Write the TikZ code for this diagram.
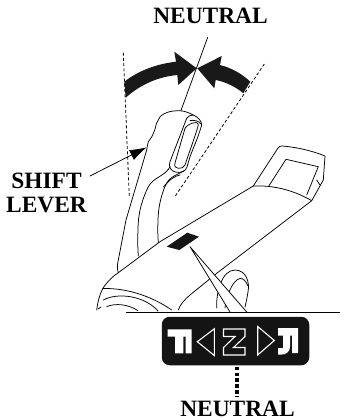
\documentclass[tikz,border=0pt]{standalone}
\usepackage{fontspec}
\usetikzlibrary{arrows.meta}
\setmainfont{Liberation Serif}
\tikzset{
  ln/.style={line width=0.75pt,line join=round,line cap=round},
  guide/.style={line width=0.8pt,dash pattern=on 3pt off 2.2pt},
  lbl/.style={font=\fontsize{23.4}{24}\selectfont\bfseries,inner sep=0pt,align=center},
  glyph/.style={fill=white,draw=none},
  outlinew/.style={draw=white,line width=1.1pt,line join=miter}
}
\begin{document}
\begin{tikzpicture}[x=1pt,y=-1pt]
\useasboundingbox (0,0) rectangle (349,420);
% guides
\coordinate (nt) at (207.7,37.3); \coordinate (nb) at (181,110.5);
\draw[ln] (nt) -- (nb);
\draw[guide] (123.3,52.7) -- (129.3,197);
\draw[guide] (264.3,64) -- (175,196.5);
% big arrows
\fill[black!90] (124.3,81.7) .. controls (138,71) and (156,64) .. (176,61.7) -- (174.3,51.7) -- (196.7,68.3) -- (178.3,85) -- (177.3,75) .. controls (157,77) and (140,85) .. (125.7,97.7) -- cycle;
\fill[black!90] (250.3,81.7) .. controls (242,74) and (232,68) .. (220,65) -- (221.7,56) -- (197.3,68.3) -- (214.3,88.3) -- (215.7,80) .. controls (226,82) and (236,87) .. (243.3,93.3) -- cycle;
% lever outer
\draw[ln] (117.7,263.3) -- (126,220) -- (146.7,150) .. controls (146.5,147) and (148,145) .. (148.3,141.7) .. controls (150,139) and (151.5,138) .. (152.7,135) .. controls (153,132) and (155,131.5) .. (155,129.3) .. controls (156,125) and (156.5,122) .. (158.3,120) .. controls (160,116) and (162,114.5) .. (165,113.3) .. controls (170,111) and (175,110.7) .. (180,110.7) .. controls (185,111) and (189.5,113) .. (193.3,115) .. controls (198,117) and (201.7,121) .. (201.7,125) .. controls (198,138) and (194,146) .. (190,156.7) -- (187,167) .. controls (186.5,169) and (185,170.5) .. (183,171.5) -- (175,175.5) .. controls (171,177.5) and (167,181) .. (165,186.5) .. controls (161,196) and (158,208) .. (158,222) .. controls (157.5,230) and (158,237) .. (158.3,242.7);
\draw[ln] (117.7,263.3) .. controls (117,266) and (117.5,270) .. (118.3,272.7);
% lever second line
\draw[ln] (170,166.5) .. controls (169,170) and (164,174) .. (156.7,178.3) .. controls (151,182) and (149,185) .. (146.7,190) .. controls (141,203) and (138,215) .. (138,230) .. controls (137.5,240) and (137.8,248) .. (138.3,256);
\draw[ln] (180,175) .. controls (175,176) and (170,179) .. (163.5,187);
% slot
\draw[ln] (186.7,118.3) .. controls (188,116) and (191,115) .. (193.3,115);
\draw[ln] (186.7,118.3) -- (170,161.7) .. controls (168.5,166) and (170,169) .. (173,171) .. controls (176,172.7) and (180,173) .. (184,171);
\draw[ln] (190,120.5) .. controls (193,120) and (199,120.5) .. (201,124);
\draw[ln] (191.7,123.3) .. controls (194,122) and (198.3,122) .. (198.3,125) .. controls (197,131) and (190,150) .. (185,165) .. controls (184,167.5) and (181,168.7) .. (178.3,168.3) .. controls (175.5,168) and (174,166.5) .. (175,163) -- (185,128.3) .. controls (186,126) and (189,124.5) .. (191.7,123.3) -- cycle;
% base outline
\draw[ln] (96.7,310) .. controls (98,300) and (100,294) .. (103,288) .. controls (108,281) and (113,276) .. (118.3,272.7) -- (160,241.7) -- (253.3,186) -- (278,148) .. controls (279,146.5) and (280.5,146) .. (282,146) .. controls (295,147) and (310,150) .. (325,156) -- (323.3,180) -- (311.7,200.7) -- (216.7,273.3) -- (190,295) .. controls (184,300) and (180,305) .. (178.3,310);
\draw[ln] (253.3,186) .. controls (275,185) and (295,191) .. (311.7,200.7);
\draw[ln] (269,185.7) -- (286,159.3) -- (318.3,166.7) -- (306.7,195);
\draw[ln] (320,185) -- (316.7,180);
% lower base curves
\draw[ln] (103,288.5) .. controls (125,288) and (150,295) .. (171.7,310);
\draw[ln] (103.3,300) .. controls (118,292) and (145,296) .. (158,311);
\draw[ln] (106.7,306.7) .. controls (115,303) and (128,304) .. (138,310.7);
\draw[ln] (98,309) -- (101,307);
% back loop
\draw[ln] (216.7,308) .. controls (216,292) and (222,270) .. (235,270) .. controls (246,270) and (250,282) .. (248,292) .. controls (247,298) and (246,303) .. (245,307);
\draw[ln] (225,308) .. controls (226,298) and (232,280) .. (240,278.5) .. controls (243,278) and (246,281) .. (248,286);
% indicator
\fill[black!92] (166.7,246.7) -- (187.3,232.7) -- (199,236.7) -- (179.3,250) -- cycle;
\coordinate (apex) at (190,246.7);
\coordinate (cl) at (230,312); \coordinate (cr) at (246.7,312);
\fill[white] (apex) -- (cl) -- (cr) -- cycle;
\draw[ln] (cl) -- (apex) -- (cr);
\coordinate (hl) at (126,312); \coordinate (hr) at (340,312);
\draw[line width=0.7pt] (hl) -- (hr);
% plate
\node[fill=black!92,minimum width=147.5pt,minimum height=48.5pt,rounded corners=8pt,inner sep=0pt] (plate) at (235.5,341) {};
\fill[glyph] (167.7,329.3) -- (191.7,329.3) -- (191.7,353.3) -- (185.7,353.3) -- (185.7,336.7) -- (183.3,336.7) -- (183.3,353.3) -- (175,353.3) -- (175,336.7) -- (167.7,336.7) -- cycle;
\draw[outlinew] (197.3,341.7) -- (214.3,328.8) -- (214.3,355.5) -- cycle;
\draw[outlinew] (223.5,329) -- (245,329) -- (245,336.5) -- (233.5,347.5) -- (245,347.5) -- (245,355) -- (223.5,355) -- (223.5,347.5) -- (235,336.5) -- (223.5,336.5) -- cycle;
\draw[outlinew] (257.7,326.5) -- (274.3,340.5) -- (257.7,355) -- cycle;
\fill[glyph] (278,328) -- (298,328) -- (298,353) -- (292,353) -- (292,335.5) -- (290,335.5) -- (290,347) .. controls (290,351.5) and (286,354.5) .. (282,354.5) -- (278,354.5) -- (278,348) -- (283,348) -- (283,335.5) -- (278,335.5) -- cycle;
% dotted stem
\coordinate (st) at (237,366.7); \coordinate (sb) at (237,397);
\draw[line width=3.6pt,dash pattern=on 3.6pt off 2.2pt] (st) -- (sb);
% labels
\node[lbl,anchor=base] (n1) at (210.5,24) {NEUTRAL};
\node[lbl] (sl) at (46.5,192.5) {SHIFT\\LEVER};
\node[lbl,anchor=base] (n2) at (237.5,416) {NEUTRAL};
\coordinate (slt) at (90,176);
\coordinate (slh) at (146.7,147.3);
\draw[ln,-{Latex[length=17pt,width=11pt]}] (slt) -- (slh);
\end{tikzpicture}
\end{document}
